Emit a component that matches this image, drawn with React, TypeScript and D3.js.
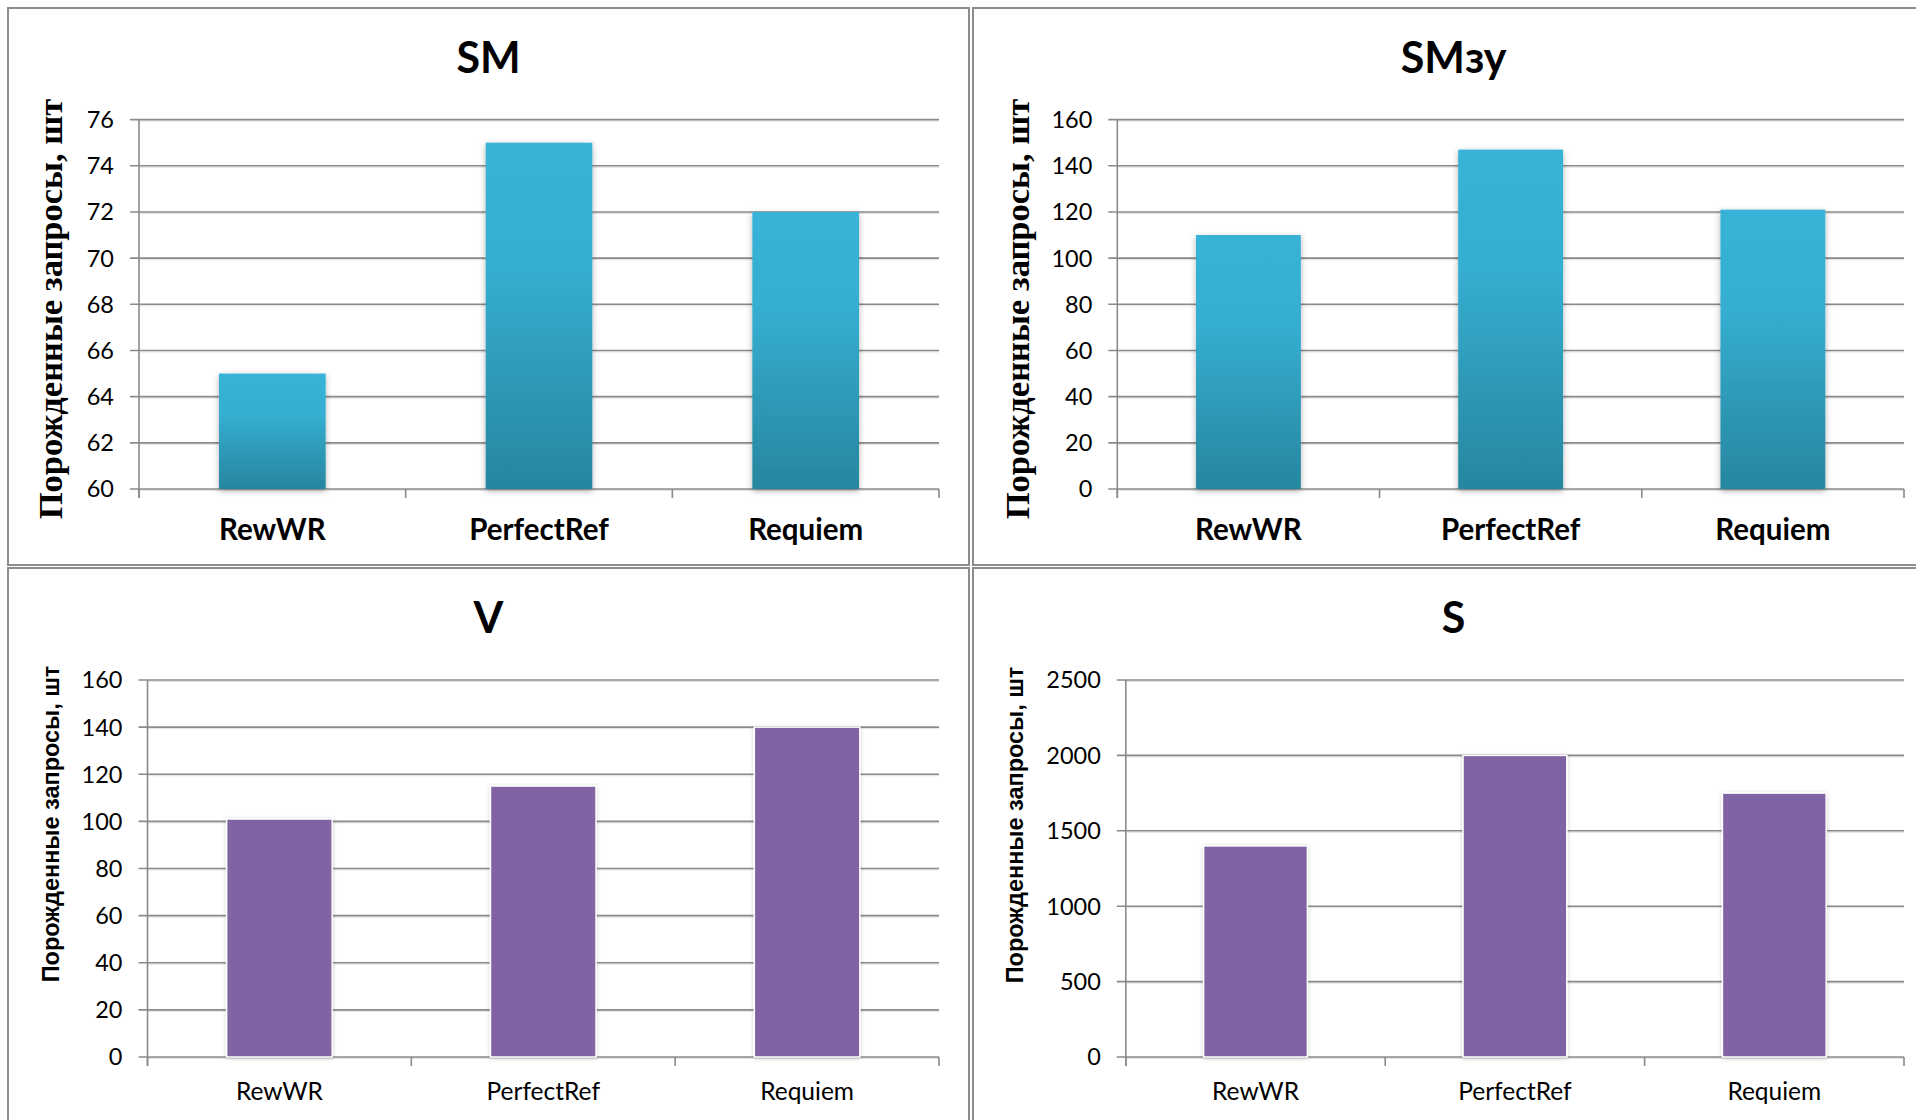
import * as d3 from 'd3'

// --- DATA ---
const categories = ['RewWR', 'PerfectRef', 'Requiem']

const smValues = [65, 75, 72]
const smzyValues = [110, 147, 121]
const vValues = [101, 115, 140]
const sValues = [1400, 2000, 1750]

const smTicks = [60, 62, 64, 66, 68, 70, 72, 74, 76]
const smzyTicks = [0, 20, 40, 60, 80, 100, 120, 140, 160]
const vTicks = [0, 20, 40, 60, 80, 100, 120, 140, 160]
const sTicks = [0, 500, 1000, 1500, 2000, 2500]

const yTitle = 'Порожденные запросы, шт'

const GRID = '#8a8a8a'
const SANS = 'Lato, "Open Sans", sans-serif'

type PanelProps = {
  box: { x: number; y: number; w: number; h: number }
  title: string
  titleY: number
  values: number[]
  ticks: number[]
  plot: { left: number; right: number; top: number; bottom: number }
  variant: 'blue' | 'purple'
  axisTitle: { x: number; y: number }
  catY: number
}

function Panel(p: PanelProps) {
  const { box, plot, ticks, values, variant } = p
  const blue = variant === 'blue'

  const y = d3
    .scaleLinear()
    .domain([ticks[0], ticks[ticks.length - 1]])
    .range([plot.bottom, plot.top])

  // bar width = 40% of the category slot (Excel gap width 150%)
  const x = d3
    .scaleBand<string>()
    .domain(categories)
    .range([plot.left, plot.right])
    .paddingInner(0.6)
    .paddingOuter(0.3)

  const step = x.step()
  const boundaries = d3.range(categories.length + 1).map((i) => plot.left + i * step)

  return (
    <g>
      <rect
        x={box.x}
        y={box.y}
        width={box.w}
        height={box.h}
        fill="#fff"
        stroke="#8c8c8c"
        strokeWidth={2}
      />
      <text
        x={box.x + box.w / 2}
        y={p.titleY}
        textAnchor="middle"
        fontFamily={SANS}
        fontWeight={700}
        fontSize={43}
        fill="#000"
      >
        {p.title}
      </text>

      {/* gridlines + tick labels */}
      {ticks.map((t) => (
        <g key={t}>
          <line x1={plot.left} x2={plot.right} y1={y(t) + 1.5} y2={y(t) + 1.5} stroke="#e2e2e2" strokeWidth={1} />
          <line x1={plot.left - 9} x2={plot.right} y1={y(t)} y2={y(t)} stroke={GRID} strokeWidth={1.6} />
          <text
            x={plot.left - 25}
            y={y(t)}
            dy="0.36em"
            textAnchor="end"
            fontFamily={SANS}
            fontSize={23.5}
            fill="#000"
          >
            {t}
          </text>
        </g>
      ))}

      {/* axes */}
      <line x1={plot.left} x2={plot.left} y1={plot.top} y2={plot.bottom + 9} stroke={GRID} strokeWidth={1.6} />
      {boundaries.map((bx, i) => (
        <line key={i} x1={bx} x2={bx} y1={plot.bottom} y2={plot.bottom + 9} stroke={GRID} strokeWidth={1.6} />
      ))}

      {/* bars */}
      {values.map((v, i) => (
        <rect
          key={categories[i]}
          x={x(categories[i])}
          y={y(v)}
          width={x.bandwidth()}
          height={plot.bottom - y(v)}
          fill={blue ? 'url(#blueGrad)' : '#8064a2'}
          stroke={blue ? 'none' : '#fff'}
          strokeWidth={blue ? 0 : 1.5}
          filter={blue ? 'url(#barShadow)' : 'url(#barShadowLight)'}
        />
      ))}

      {/* category labels */}
      {categories.map((c) => (
        <text
          key={c}
          x={(x(c) ?? 0) + x.bandwidth() / 2}
          y={p.catY}
          textAnchor="middle"
          fontFamily={SANS}
          fontWeight={blue ? 700 : 400}
          fontSize={blue ? 29.5 : 24.5}
          fill="#000"
        >
          {c}
        </text>
      ))}

      {/* y axis title */}
      <text
        transform={`translate(${p.axisTitle.x}, ${p.axisTitle.y}) rotate(-90)`}
        textAnchor="middle"
        fontFamily={blue ? '"Liberation Serif", "Times New Roman", serif' : '"Liberation Sans", Arial, sans-serif'}
        fontWeight={700}
        fontSize={blue ? 34.5 : 23.5}
        fill="#000"
      >
        {yTitle}
      </text>
    </g>
  )
}

export default function App() {
  return (
    <svg
      width={1916}
      height={1120}
      style={{ position: 'absolute', left: 0, top: 0, background: '#fff' }}
    >
      <defs>
        <linearGradient id="blueGrad" x1="0" y1="0" x2="0" y2="1">
          <stop offset="0" stopColor="#37b3d7" />
          <stop offset="0.35" stopColor="#35aed1" />
          <stop offset="1" stopColor="#27869f" />
        </linearGradient>
        <filter id="barShadow" x="-20%" y="-10%" width="140%" height="130%">
          <feDropShadow dx="0" dy="2" stdDeviation="3" floodColor="#000" floodOpacity="0.3" />
        </filter>
        <filter id="barShadowLight" x="-20%" y="-10%" width="140%" height="130%">
          <feDropShadow dx="0" dy="1" stdDeviation="2" floodColor="#000" floodOpacity="0.2" />
        </filter>
      </defs>

      <Panel
        box={{ x: 8, y: 8, w: 961, h: 557 }}
        title="SM"
        titleY={73}
        values={smValues}
        ticks={smTicks}
        plot={{ left: 139, right: 939, top: 119.6, bottom: 489 }}
        variant="blue"
        axisTitle={{ x: 62, y: 309 }}
        catY={540}
      />
      <Panel
        box={{ x: 973, y: 8, w: 961, h: 557 }}
        title="SMзу"
        titleY={73}
        values={smzyValues}
        ticks={smzyTicks}
        plot={{ left: 1117.3, right: 1904, top: 119.6, bottom: 489 }}
        variant="blue"
        axisTitle={{ x: 1029, y: 309 }}
        catY={540}
      />
      <Panel
        box={{ x: 8, y: 568, w: 961, h: 560 }}
        title="V"
        titleY={633}
        values={vValues}
        ticks={vTicks}
        plot={{ left: 147.5, right: 939, top: 680, bottom: 1057 }}
        variant="purple"
        axisTitle={{ x: 59, y: 824 }}
        catY={1100}
      />
      <Panel
        box={{ x: 973, y: 568, w: 961, h: 560 }}
        title="S"
        titleY={633}
        values={sValues}
        ticks={sTicks}
        plot={{ left: 1125.8, right: 1904, top: 680, bottom: 1057 }}
        variant="purple"
        axisTitle={{ x: 1023, y: 825 }}
        catY={1100}
      />
    </svg>
  )
}
